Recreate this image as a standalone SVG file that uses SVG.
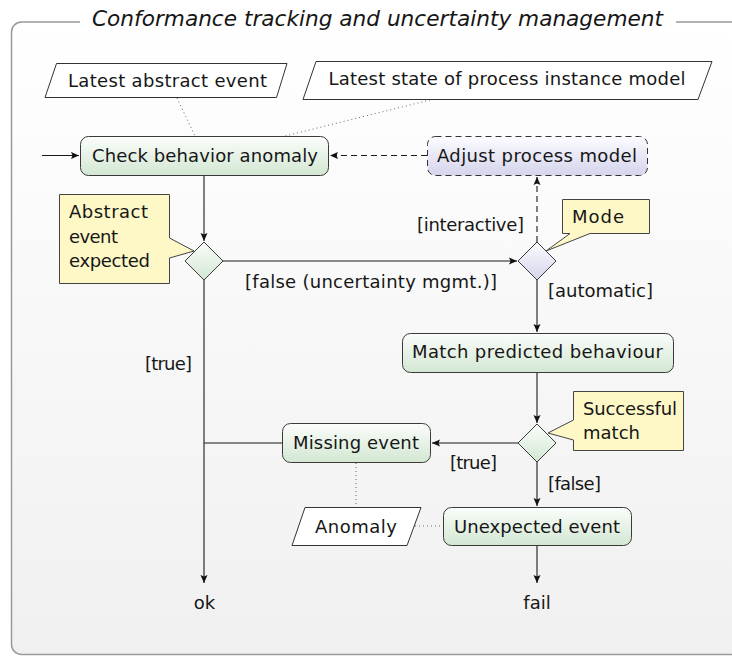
<svg xmlns="http://www.w3.org/2000/svg" width="732" height="656" viewBox="0 0 732 656">
<defs>
<linearGradient id="bg" x1="0" y1="0" x2="0" y2="1"><stop offset="0" stop-color="#ffffff"/><stop offset="1" stop-color="#f0f0f0"/></linearGradient>
<linearGradient id="gr" x1="0" y1="0" x2="0" y2="1"><stop offset="0" stop-color="#fbfdfb"/><stop offset="1" stop-color="#d2e7d2"/></linearGradient>
<linearGradient id="lv" x1="0" y1="0" x2="0" y2="1"><stop offset="0" stop-color="#fcfcff"/><stop offset="1" stop-color="#d4d4ec"/></linearGradient>
<marker id="ah" markerUnits="userSpaceOnUse" markerWidth="10" markerHeight="8" refX="8" refY="4" orient="auto"><path d="M0,0.5 L8,4 L0,7.5 L1.5,4 Z" fill="#111"/></marker>
<style>
text{font-family:"DejaVu Sans","Liberation Sans",sans-serif;font-size:18px;fill:#161616}
.t{font-size:20.5px;font-style:italic}
.m{text-anchor:middle}
.e{text-anchor:end}
.act{stroke:#3a3a3a;stroke-width:1;fill:url(#gr)}
.adj{stroke:#333;stroke-width:1;fill:url(#lv);stroke-dasharray:6 4}
.io{stroke:#333;stroke-width:1;fill:#fff}
.note{stroke:#444;stroke-width:1;fill:#fdf8c6}
.c{fill:none;stroke:#1a1a1a;stroke-width:1.1}
.d{fill:none;stroke:#1a1a1a;stroke-width:1.1;stroke-dasharray:6 4}
.dot{fill:none;stroke:#666;stroke-width:1;stroke-dasharray:1 3}
</style>
</defs>
<g id="frame">
<rect x="11.5" y="22" width="740" height="632.5" rx="10" fill="url(#bg)"/>
<path d="M80,22 H21.5 A10,10 0 0 0 11.5,32 V644.5 A10,10 0 0 0 21.5,654.5 H740 M676,22 H740" fill="none" stroke="#9a9a9a" stroke-width="1.5"/>
<text class="t" x="92" y="26" textLength="571" lengthAdjust="spacingAndGlyphs">Conformance tracking and uncertainty management</text>
</g>
<g id="connectors">
<path class="c" d="M42,155.5 H79" marker-end="url(#ah)"/>
<path class="c" d="M204,175.5 V241" marker-end="url(#ah)"/>
<path class="c" d="M223,261 H517" marker-end="url(#ah)"/>
<path class="d" d="M537,242 V177" marker-end="url(#ah)"/>
<path class="d" d="M427,155.5 H330" marker-end="url(#ah)"/>
<path class="c" d="M537,280 V332" marker-end="url(#ah)"/>
<path class="c" d="M537,372.5 V423" marker-end="url(#ah)"/>
<path class="c" d="M518,443 H432" marker-end="url(#ah)"/>
<path class="c" d="M282,443 H204" stroke="#444"/>
<path class="c" d="M204,280 V583" stroke-width="1.4" marker-end="url(#ah)"/>
<path class="c" d="M537,462 V506" marker-end="url(#ah)"/>
<path class="c" d="M537,545.5 V583" marker-end="url(#ah)"/>
<path class="dot" d="M177,98 L195,136"/>
<path class="dot" d="M430,100 L285,136"/>
<path class="dot" d="M356,463 V507"/>
<path class="dot" d="M415,526 H443"/>
<text x="245" y="288" textLength="252">[false (uncertainty mgmt.)]</text>
<text class="e" x="524" y="231" textLength="107">[interactive]</text>
<text x="548" y="297" textLength="105">[automatic]</text>
<text x="450" y="469" textLength="47">[true]</text>
<text x="548" y="490" textLength="53">[false]</text>
<text x="145" y="370" textLength="47">[true]</text>
<text class="m" x="204.5" y="609">ok</text>
<text class="m" x="537" y="609">fail</text>
</g>
<g id="latest-abstract-event">
<path class="io" d="M56.5,63.5 H287 L276.5,97.5 H45 Z"/>
<text class="m" x="167.5" y="87" textLength="199">Latest abstract event</text>
</g>
<g id="latest-state">
<path class="io" d="M316,61.5 H712 L698,99.5 H303 Z"/>
<text class="m" x="507" y="85" textLength="357">Latest state of process instance model</text>
</g>
<g id="check-behavior-anomaly">
<rect class="act" x="80.5" y="136.5" width="248" height="39" rx="8"/>
<text class="m" x="205" y="162" textLength="226">Check behavior anomaly</text>
</g>
<g id="adjust-process-model">
<rect class="adj" x="427.5" y="136.5" width="220" height="39" rx="8"/>
<text class="m" x="537" y="162" textLength="200">Adjust process model</text>
</g>
<g id="decision-expected">
<path class="act" d="M204,242 L223,261 L204,280 L185,261 Z"/>
</g>
<g id="note-expected">
<path class="note" d="M59.5,194.5 H169.5 V238 L194,251 L169.5,258 V283.5 H59.5 Z"/>
<text x="69" y="218" textLength="79">Abstract</text>
<text x="69" y="243" textLength="49">event</text>
<text x="69" y="267" textLength="81">expected</text>
</g>
<g id="decision-mode">
<path class="act" style="fill:url(#lv)" d="M537,242 L556,261 L537,280 L518,261 Z"/>
</g>
<g id="note-mode">
<path class="note" d="M562.5,199.5 H649.5 V233.5 H590 L546,251 L570,233.5 H562.5 Z"/>
<text x="572" y="223" textLength="52">Mode</text>
</g>
<g id="match-predicted-behaviour">
<rect class="act" x="402.5" y="333.5" width="271" height="39" rx="8"/>
<text class="m" x="537.5" y="358" textLength="251">Match predicted behaviour</text>
</g>
<g id="decision-match">
<path class="act" d="M537,424 L556,443 L537,462 L518,443 Z"/>
</g>
<g id="note-match">
<path class="note" d="M573.5,391.5 H683.5 V450.5 H573.5 V440 L548,433 L573.5,420 Z"/>
<text x="583" y="415" textLength="94">Successful</text>
<text x="583" y="439" textLength="57">match</text>
</g>
<g id="missing-event">
<rect class="act" x="282.5" y="423.5" width="148" height="39" rx="8"/>
<text class="m" x="356" y="449" textLength="126">Missing event</text>
</g>
<g id="anomaly">
<path class="io" d="M305,507.5 H421 L407,545.5 H292 Z"/>
<text class="m" x="356" y="533" textLength="82">Anomaly</text>
</g>
<g id="unexpected-event">
<rect class="act" x="443.5" y="507.5" width="188" height="38" rx="8"/>
<text class="m" x="537" y="533" textLength="166">Unexpected event</text>
</g>
</svg>
